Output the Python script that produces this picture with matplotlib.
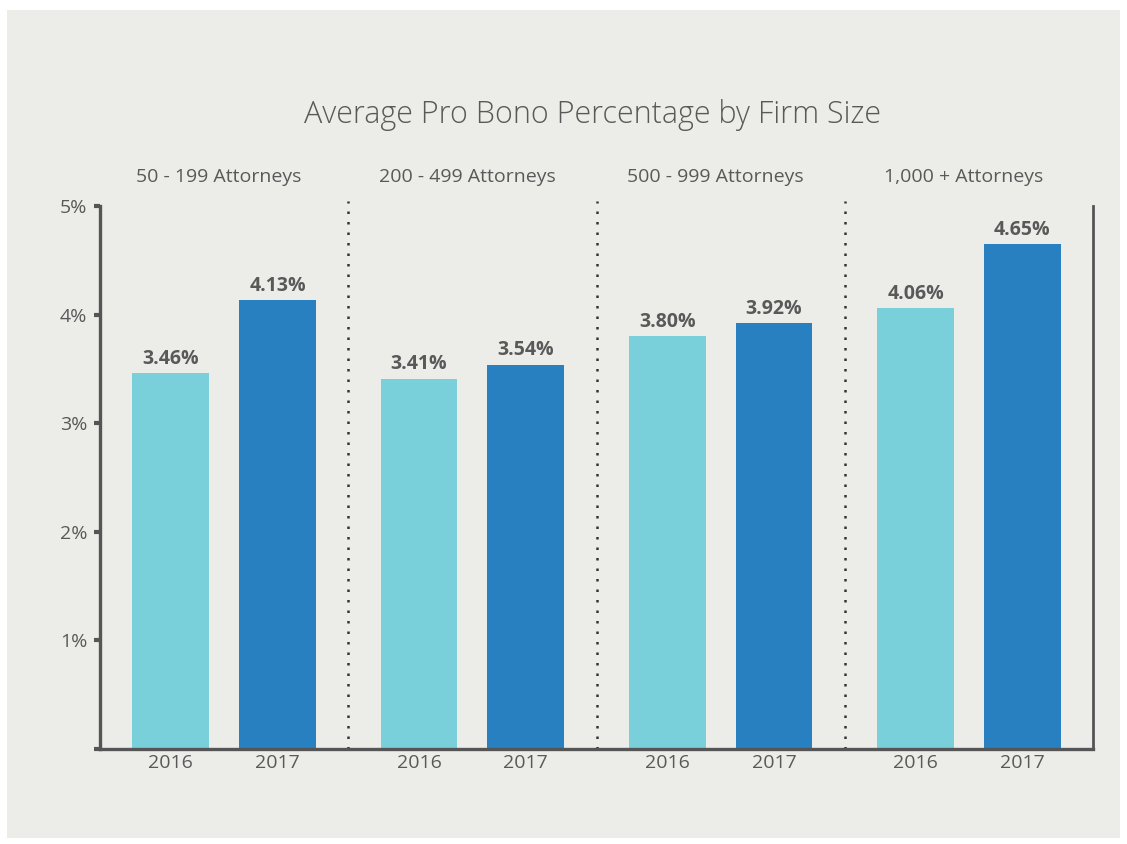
import matplotlib
matplotlib.use("Agg")
import matplotlib.pyplot as plt
from matplotlib.patches import Rectangle

groups = ["50 - 199 Attorneys", "200 - 499 Attorneys", "500 - 999 Attorneys", "1,000 + Attorneys"]
years = ["2016", "2017"]
values_2016 = [3.46, 3.41, 3.80, 4.06]
values_2017 = [4.13, 3.54, 3.92, 4.65]
yticks = [1, 2, 3, 4, 5]
ytick_labels = ["1%", "2%", "3%", "4%", "5%"]
title = "Average Pro Bono Percentage by Firm Size"

plt.rcParams['font.family'] = ['Open Sans', 'DejaVu Sans']

BG = "#ECECE8"
C16 = "#79D0DB"
C17 = "#2980C0"
TXT = "#595959"
AX = "#555555"

fig = plt.figure(figsize=(11.27, 8.44), dpi=100)
fig.patch.set_facecolor("white")
fig.patches.append(Rectangle((7/1127, 6/844), (1120-7)/1127, (834-6)/844,
                             transform=fig.transFigure, facecolor=BG, edgecolor="none", zorder=-5))

ax = fig.add_axes([100/1127, 95/844, (1093-100)/1127, (749-206)/844])
ax.set_zorder(2)
ax.set_facecolor("none")
ax.set_xlim(0, 4)
ax.set_ylim(0, 5)

off = 0.215
w = 0.31
centers = [i + 0.5 for i in range(len(groups))]
b16 = ax.bar([c - off for c in centers], values_2016, width=w, color=C16, zorder=2)
b17 = ax.bar([c + off for c in centers], values_2017, width=w, color=C17, zorder=2)

for bars, vals in ((b16, values_2016), (b17, values_2017)):
    for r, v in zip(bars, vals):
        ax.text(r.get_x() + r.get_width()/2, v + 0.04, f"{v:.2f}%", ha="center", va="bottom",
                fontsize=14, fontweight="bold", color=TXT)

# year labels
for c in centers:
    for dx, y in ((-off, years[0]), (off, years[1])):
        ax.text(c + dx, -0.05, y, ha="center", va="top", fontsize=14, color=TXT)

# group labels
for c, g in zip(centers, groups):
    ax.text(c - 0.02, 5.18, g, ha="center", va="bottom", fontsize=14, color=TXT)

# separators
for i in range(1, len(groups)):
    ax.vlines(i, 0, 5.05, colors="#333333", linestyles=(0, (1, 3.2)), linewidth=1.8, clip_on=False, zorder=1)

ax.set_xticks([])
ax.set_yticks([0] + yticks)
ax.set_yticklabels([""] + ytick_labels, fontsize=14, color=TXT)
ax.tick_params(axis="y", length=4, width=3, color=AX, pad=5)

ax.spines["top"].set_visible(False)
ax.spines["left"].set_color(AX)
ax.spines["left"].set_linewidth(2.4)
ax.spines["bottom"].set_color(AX)
ax.spines["bottom"].set_linewidth(2.4)
ax.spines["right"].set_color(AX)
ax.spines["right"].set_linewidth(2)

fig.text(592/1127, 1 - 115/844, title, ha="center", va="center", fontsize=22,
         fontweight="light", color=TXT)

fig.savefig("out.png", dpi=100, facecolor=fig.get_facecolor())
